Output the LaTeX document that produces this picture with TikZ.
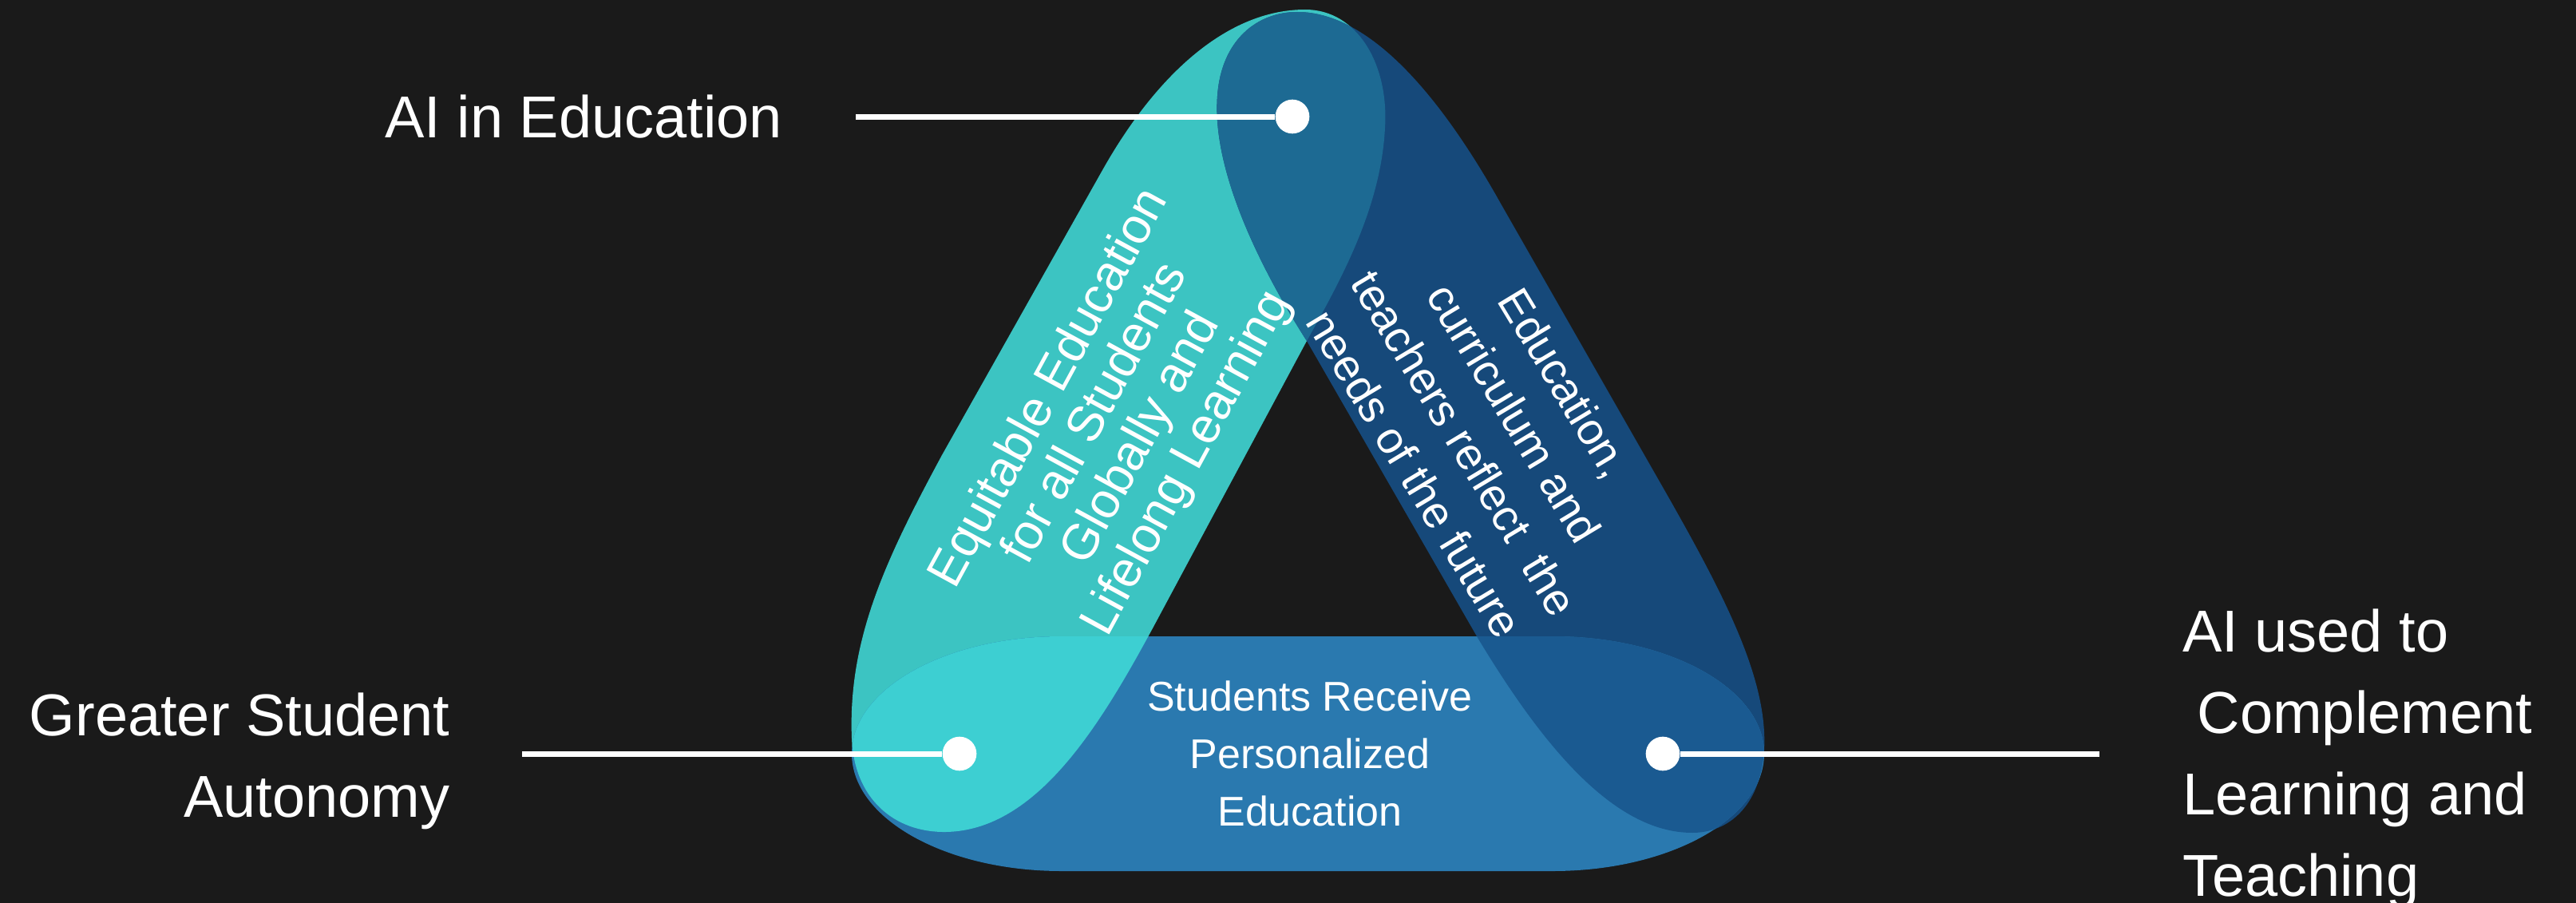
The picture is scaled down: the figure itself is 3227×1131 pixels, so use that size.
\documentclass[tikz,border=0pt]{standalone}
\usepackage{fontspec}
\setmainfont{Liberation Sans}

\definecolor{bgdark}{RGB}{26,26,26}
\definecolor{tealband}{RGB}{60,196,194}
\definecolor{navyband}{RGB}{22,73,122}
\definecolor{baseband}{RGB}{42,121,175}
\definecolor{topmix}{RGB}{29,106,147}
\definecolor{leftmix}{RGB}{61,207,210}
\definecolor{rightmix}{RGB}{26,90,145}

\tikzset{every picture/.style={line width=0.75pt}}
\tikzset{leader/.style={draw=white, line width=5.25pt},
  knob/.style={circle, fill=white, inner sep=0pt, minimum size=32pt},
  sidelabel/.style={text=white, inner sep=0pt, outer ysep=0pt, font=\fontsize{55.5}{76.5}\selectfont},
  bandtext/.style={text=white, inner sep=0pt, align=center}}

%band outlines, in pixels of the picture
\newcommand{\tealpath}{(1067,925) .. controls (1062,800) and (1110,700) .. (1180,570) -- (1380,215) .. controls (1450,90) and (1540,12) .. (1635,12) .. controls (1700,12) and (1740,80) .. (1735,160) .. controls (1730,260) and (1680,350) .. (1637,427) -- (1445,785) .. controls (1380,905) and (1300,1040) .. (1185,1042) .. controls (1120,1043) and (1070,1000) .. (1067,925) -- cycle}
\newcommand{\navypath}{(1637,427) .. controls (1575,330) and (1518,210) .. (1525,120) .. controls (1530,50) and (1575,15) .. (1625,15) .. controls (1720,15) and (1810,130) .. (1880,255) -- (2080,605) .. controls (2160,745) and (2215,850) .. (2210,940) .. controls (2205,1010) and (2165,1043) .. (2120,1043) .. controls (2020,1043) and (1930,930) .. (1850,797) -- cycle}
\newcommand{\basepath}{(1330,797) -- (1945,797) arc[start angle=-90, end angle=90, x radius=265, y radius=147] -- (1330,1091) arc[start angle=90, end angle=270, x radius=263, y radius=147] -- cycle}

\begin{document}
\begin{tikzpicture}[x=0.75pt,y=0.75pt,yscale=-1,xscale=1]
\useasboundingbox (0,0) rectangle (3227,1131);
%Background
\fill [bgdark] (0,0) rectangle (3227,1131);

%Shape: left band
\fill [tealband] \tealpath;
%Shape: right band
\fill [navyband] \navypath;
%Shape: bottom band
\fill [baseband] \basepath;

%Overlap: top
\begin{scope}
\clip \tealpath;
\fill [topmix] \navypath;
\end{scope}
%Overlap: bottom left
\begin{scope}
\clip \basepath;
\fill [leftmix] \tealpath;
\end{scope}
%Overlap: bottom right
\begin{scope}
\clip \basepath;
\fill [rightmix] \navypath;
\end{scope}

% Text Node
\node (tealtext) at (1402,534) [bandtext, rotate=61.4, font=\fontsize{47}{49}\selectfont] {Equitable Education\\for all Students\\Globally and\\Lifelong Learning};
% Text Node
\node (navytext) at (1866,536) [bandtext, rotate=-58.9, font=\fontsize{42}{55}\selectfont] {Education,\\curriculum and\\teachers reflect\ \ the\\needs of the future};
% Text Node
\node (basetext) at (1641,944) [bandtext, font=\fontsize{39}{54}\selectfont] {Students Receive\\Personalized\\Education};

%Dots
\node (edu) at (1619,146) [knob] {};
\node (auto) at (1202,944) [knob] {};
\node (compl) at (2083,944) [knob] {};

% Text Node
\node (edulabel) at (1072,146) [sidelabel, anchor=east, outer xsep=69pt] {AI in Education};
% Text Node
\node (autolabel) at (654,868) [sidelabel, anchor=north east, outer xsep=68pt, align=right] {Greater Student\\Autonomy};
% Text Node
\node (compllabel) at (2630,763) [sidelabel, anchor=north west, outer xsep=78pt, align=left] {AI used to\\\hspace*{14pt}Complement\\Learning and\\Teaching};

%Leader lines
\draw [leader] (edulabel) -- (edu);
\draw [leader] (autolabel.east |- auto) -- (auto);
\draw [leader] (compl) -- (compl -| compllabel.west);
\end{tikzpicture}
\end{document}
